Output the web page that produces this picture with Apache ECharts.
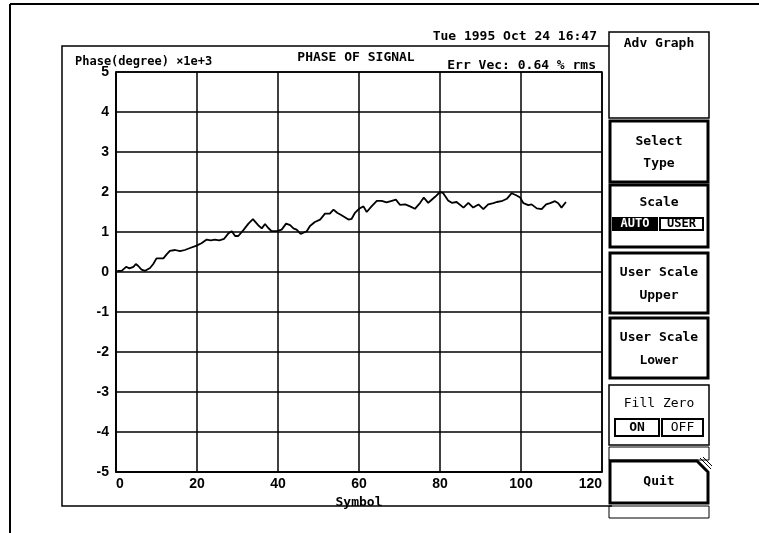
<!DOCTYPE html>
<html>
<head>
<meta charset="utf-8">
<script src="https://cdn.jsdelivr.net/npm/echarts@6/dist/echarts.min.js"></script>
<style>
  html, body { margin: 0; padding: 0; background: #ffffff; }
  #chart { width: 759px; height: 533px; }
</style>
</head>
<body>
<div id="chart"></div>
<script>
// Phase trace: symbol index vs. phase in thousands of degrees
const symbolPos = [
  0.3, 1.4, 2.5, 3.3, 4.3, 4.9, 5.5, 6.3, 7.2, 8.4, 9.2, 10.0, 10.9, 11.7, 12.5, 13.3,
  14.6, 15.8, 17.0, 18.3, 19.9, 21.1, 22.4, 23.4, 24.4, 25.5, 26.7, 27.7, 28.6, 29.4,
  30.2, 31.4, 32.7, 33.8, 35.1, 36.0, 36.8, 37.6, 38.4, 39.7, 40.9, 42.0, 43.0, 43.8,
  44.6, 45.6, 47.1, 47.9, 49.1, 50.4, 51.6, 52.8, 53.7, 54.6, 55.7, 57.4, 58.2, 59.0,
  60.0, 61.1, 61.9, 63.1, 64.4, 65.6, 66.8, 68.1, 69.1, 70.1, 71.4, 72.6, 73.8, 75.1,
  76.0, 77.1, 78.8, 80.0, 80.8, 82.0, 82.9, 84.1, 85.8, 87.0, 88.2, 89.5, 90.7, 91.9,
  93.2, 94.0, 95.2, 96.5, 97.7, 98.8, 99.8, 100.6, 101.8, 102.6, 103.9, 105.1, 106.2,
  107.2, 108.4, 109.2, 110.0, 111.1
];
const phaseK = [
  0.03, 0.03, 0.13, 0.09, 0.13, 0.20, 0.15, 0.06, 0.03, 0.10, 0.20, 0.34, 0.34, 0.34, 0.44, 0.53,
  0.55, 0.52, 0.55, 0.60, 0.66, 0.72, 0.81, 0.79, 0.81, 0.79, 0.83, 0.96, 1.02, 0.90,
  0.90, 1.04, 1.21, 1.32, 1.17, 1.09, 1.20, 1.10, 1.02, 1.02, 1.06, 1.21, 1.17, 1.09,
  1.06, 0.95, 1.02, 1.15, 1.25, 1.31, 1.46, 1.46, 1.56, 1.48, 1.42, 1.31, 1.33, 1.48,
  1.58, 1.64, 1.50, 1.64, 1.78, 1.78, 1.74, 1.78, 1.81, 1.68, 1.69, 1.64, 1.58, 1.73,
  1.86, 1.73, 1.88, 2.00, 1.97, 1.79, 1.73, 1.75, 1.61, 1.73, 1.61, 1.69, 1.57, 1.69,
  1.72, 1.75, 1.77, 1.83, 1.97, 1.92, 1.86, 1.72, 1.67, 1.69, 1.59, 1.57, 1.69,
  1.72, 1.77, 1.72, 1.61, 1.75
];
const xTicks = [0, 20, 40, 60, 80, 100, 120];
const yTicks = [-5, -4, -3, -2, -1, 0, 1, 2, 3, 4, 5];

const titleText = 'PHASE OF SIGNAL';
const yAxisTitle = 'Phase(degree) \u00d71e+3';
const xAxisTitle = 'Symbol';
const stampText = 'Tue 1995 Oct 24 16:47';
const errText = 'Err Vec: 0.64 % rms';

const MONO = '"DejaVu Sans Mono", "Liberation Mono", monospace';
const SANS = '"Liberation Sans", Arial, sans-serif';
const INK = '#000000';

const trace = symbolPos.map((x, i) => [x, phaseK[i]]);

function label(text, x, y, font, align, color) {
  return {
    type: 'text',
    style: {
      text: text, x: x, y: y,
      fill: color || INK, font: font || ('bold 13px ' + MONO),
      textAlign: align || 'center', textVerticalAlign: 'middle'
    }
  };
}
function box(x, y, w, h, lw, extra) {
  return {
    type: 'rect',
    shape: { x: x, y: y, width: w, height: h },
    style: Object.assign({ fill: 'none', stroke: INK, lineWidth: lw }, extra || {})
  };
}
function line(x1, y1, x2, y2, lw) {
  return { type: 'line', shape: { x1: x1, y1: y1, x2: x2, y2: y2 }, style: { stroke: INK, lineWidth: lw } };
}

const panelX = 609, panelW = 100, cx = panelX + panelW / 2;
const BOLD13 = 'bold 13px ' + MONO;
const BOLD12 = 'bold 12px ' + MONO;
const PLAIN13 = '13px ' + MONO;

const decorations = [
  // screen frame
  line(10, 4, 759, 4, 2),
  line(10, 4, 10, 533, 2),
  // graph window frame
  { type: 'polyline', shape: { points: [[609, 46], [62, 46], [62, 506], [612, 506]] },
    style: { stroke: INK, lineWidth: 1.5, fill: 'none' } },
  label(stampText, 597, 37, BOLD13, 'right'),
  label(titleText, 356, 58, BOLD13),
  label(yAxisTitle, 75, 62, BOLD12, 'left'),
  label(errText, 596, 66, BOLD13, 'right'),

  // soft-key panel
  box(panelX, 32, panelW, 86, 1.5),
  label('Adv Graph', cx, 44),

  box(panelX + 1, 121, panelW - 2, 61, 3),
  label('Select', cx, 142),
  label('Type', cx, 164),

  box(panelX + 1, 185, panelW - 2, 62, 3),
  label('Scale', cx, 203),
  { type: 'rect', shape: { x: 612, y: 217, width: 46, height: 14 }, style: { fill: INK } },
  label('AUTO', 635, 224, BOLD12, 'center', '#ffffff'),
  box(660, 218, 43, 12, 2),
  label('USER', 681.5, 224, BOLD12),

  box(panelX + 1, 253, panelW - 2, 60, 3),
  label('User Scale', cx, 273),
  label('Upper', cx, 296),

  box(panelX + 1, 318, panelW - 2, 60, 3),
  label('User Scale', cx, 338),
  label('Lower', cx, 361),

  box(panelX, 385, panelW, 60, 1.5),
  label('Fill Zero', cx, 404, PLAIN13),
  box(615, 419, 44, 17, 2),
  label('ON', 637, 427.5),
  box(662, 419, 41, 17, 2),
  label('OFF', 682.5, 427.5, PLAIN13),

  box(panelX, 447, panelW, 13, 1),
  { type: 'polygon', shape: { points: [[610, 461], [697, 461], [708, 472], [708, 503], [610, 503]] },
    style: { fill: 'none', stroke: INK, lineWidth: 3 } },
  line(700, 458, 711, 469, 1),
  line(703, 457, 712, 466, 1),
  label('Quit', cx, 482),
  box(panelX, 506, panelW, 12, 1)
];

const tickFont = { color: INK, fontFamily: SANS, fontWeight: 'bold', fontSize: 14 };

const chart = echarts.init(document.getElementById('chart'), null, { renderer: 'canvas' });
chart.setOption({
  animation: false,
  backgroundColor: '#ffffff',
  grid: { left: 116, top: 72, width: 486, height: 400, containLabel: false, show: true, borderColor: INK, borderWidth: 1.5 },
  xAxis: {
    type: 'value',
    min: xTicks[0], max: xTicks[xTicks.length - 1], interval: 20,
    name: xAxisTitle, nameLocation: 'middle', nameGap: 21,
    nameTextStyle: { color: INK, fontFamily: MONO, fontWeight: 'bold', fontSize: 13 },
    axisLine: { show: true, onZero: false, lineStyle: { color: INK, width: 1.5 } },
    axisTick: { show: false },
    axisLabel: Object.assign({ margin: 5, alignMinLabel: 'left', alignMaxLabel: 'right',
      formatter: v => xTicks.includes(v) ? String(v) : '' }, tickFont),
    splitLine: { show: true, lineStyle: { color: INK, width: 1.5 } }
  },
  yAxis: {
    type: 'value',
    min: yTicks[0], max: yTicks[yTicks.length - 1], interval: 1,
    axisLine: { show: true, lineStyle: { color: INK, width: 1.5 } },
    axisTick: { show: false },
    axisLabel: Object.assign({ margin: 7,
      formatter: v => yTicks.includes(v) ? String(v) : '' }, tickFont),
    splitLine: { show: true, lineStyle: { color: INK, width: 1.5 } }
  },
  series: [{
    type: 'line',
    data: trace,
    showSymbol: false,
    lineStyle: { color: INK, width: 1.8 },
    z: 5
  }],
  graphic: { elements: decorations }
});
</script>
</body>
</html>
